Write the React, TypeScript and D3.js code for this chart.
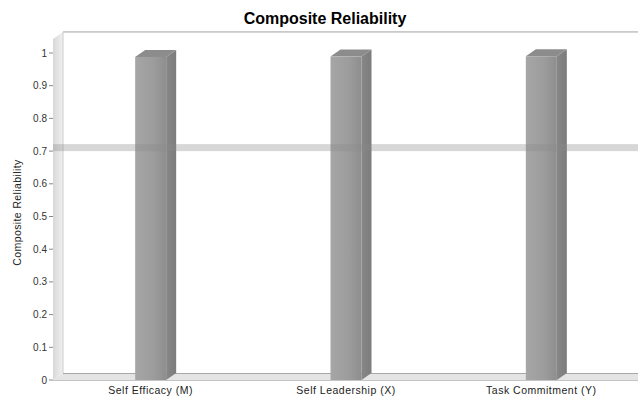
import React from "react";
import * as d3 from "d3";

const categories = ["Self Efficacy (M)", "Self Leadership (X)", "Task Commitment (Y)"];
const values = [0.988, 0.989, 0.99];
const threshold = 0.7;
const yTicks = [0, 0.1, 0.2, 0.3, 0.4, 0.5, 0.6, 0.7, 0.8, 0.9, 1];
const title = "Composite Reliability";
const yTitle = "Composite Reliability";

const W = 638;
const H = 401;
const left = 53;
const right = 639;
const bottom = 380;
const dx = 10;
const dy = 7;
const barW = 31;
const font = "'Liberation Sans', Arial, sans-serif";

export default function App() {
  const y = d3.scaleLinear().domain([0, 1]).range([bottom, 53]);
  const x = d3.scalePoint<string>().domain(categories).range([left, right]).padding(0.5);
  const wallTop = y(1.043);
  const fmt = (v: number) => (v === 0 || v === 1 ? String(v) : d3.format(".1f")(v));

  return (
    <div style={{ position: "absolute", left: 0, top: 0 }}>
      <svg width={W} height={H} style={{ display: "block", background: "#fff" }}>
        <defs>
          <linearGradient id="wall" x1="0" x2="1" y1="0" y2="0">
            <stop offset="0" stopColor="#d8d8d8" />
            <stop offset="1" stopColor="#f0f0f0" />
          </linearGradient>
          <linearGradient id="front" x1="0" x2="1" y1="0" y2="0">
            <stop offset="0" stopColor="#a6a6a6" />
            <stop offset="0.6" stopColor="#9c9c9c" />
            <stop offset="1" stopColor="#8e8e8e" />
          </linearGradient>
          <linearGradient id="side" x1="0" x2="1" y1="0" y2="0">
            <stop offset="0" stopColor="#878787" />
            <stop offset="1" stopColor="#7c7c7c" />
          </linearGradient>
        </defs>
        <rect x={0} y={0} width={W} height={H} fill="#fff" />
        {/* back wall */}
        <line x1={left + dx} x2={W} y1={wallTop - dy} y2={wallTop - dy} stroke="#a0a0a0" strokeWidth={1} />
        {/* left wall */}
        <polygon
          points={`${left},${bottom} ${left},${wallTop} ${left + dx},${wallTop - dy} ${left + dx},${bottom - dy}`}
          fill="url(#wall)"
        />
        <line x1={left + dx} x2={left + dx} y1={wallTop - dy} y2={bottom - dy} stroke="#cccccc" />
        {/* floor */}
        <polygon
          points={`${left},${bottom} ${left + dx},${bottom - dy} ${W},${bottom - dy} ${W},${bottom}`}
          fill="#e4e4e4"
        />
        <line x1={left + dx} x2={W} y1={bottom - dy + 0.5} y2={bottom - dy + 0.5} stroke="#a8a8a8" />
        <line x1={left} x2={W} y1={bottom + 0.5} y2={bottom + 0.5} stroke="#c4c4c4" />
        {/* bars */}
        {categories.map((c, i) => {
          const cx = x(c) as number;
          const x0 = cx - barW / 2;
          const x1 = cx + barW / 2;
          const yv = y(values[i]);
          return (
            <g key={c}>
              <polygon
                points={`${x1},${yv} ${x1 + dx},${yv - dy} ${x1 + dx},${bottom - dy} ${x1},${bottom}`}
                fill="url(#side)"
              />
              <polygon
                points={`${x0},${yv} ${x0 + dx},${yv - dy} ${x1 + dx},${yv - dy} ${x1},${yv}`}
                fill="#8c8c8c"
              />
              <rect x={x0} y={yv} width={barW} height={bottom - yv} fill="url(#front)" />
            </g>
          );
        })}
        {/* threshold band */}
        <rect
          x={left}
          y={y(threshold) - dy}
          width={W - left}
          height={dy}
          fill="#8a8a8a"
          opacity={0.34}
        />
        {/* y axis ticks */}
        {yTicks.map((t) => (
          <g key={t}>
            <line x1={left - 4} x2={left} y1={y(t)} y2={y(t)} stroke="#888" />
            <text
              x={left - 6}
              y={y(t)}
              dy="0.35em"
              textAnchor="end"
              fontFamily={font}
              fontSize={10}
              fill="#333"
            >
              {fmt(t)}
            </text>
          </g>
        ))}
        {/* x labels */}
        {categories.map((c) => (
          <text
            key={c}
            x={x(c) as number}
            y={394}
            textAnchor="middle"
            fontFamily={font}
            fontSize={10.5}
            letterSpacing={0.5}
            fill="#222"
          >
            {c}
          </text>
        ))}
        <text
          transform={`translate(21,${(y(0) + y(1)) / 2 - 4}) rotate(-90)`}
          textAnchor="middle"
          fontFamily={font}
          fontSize={10.5}
          letterSpacing={0.4}
          fill="#222"
        >
          {yTitle}
        </text>
        <text x={325} y={24} textAnchor="middle" fontFamily={font} fontWeight="bold" fontSize={16} fill="#000">
          {title}
        </text>
      </svg>
    </div>
  );
}
